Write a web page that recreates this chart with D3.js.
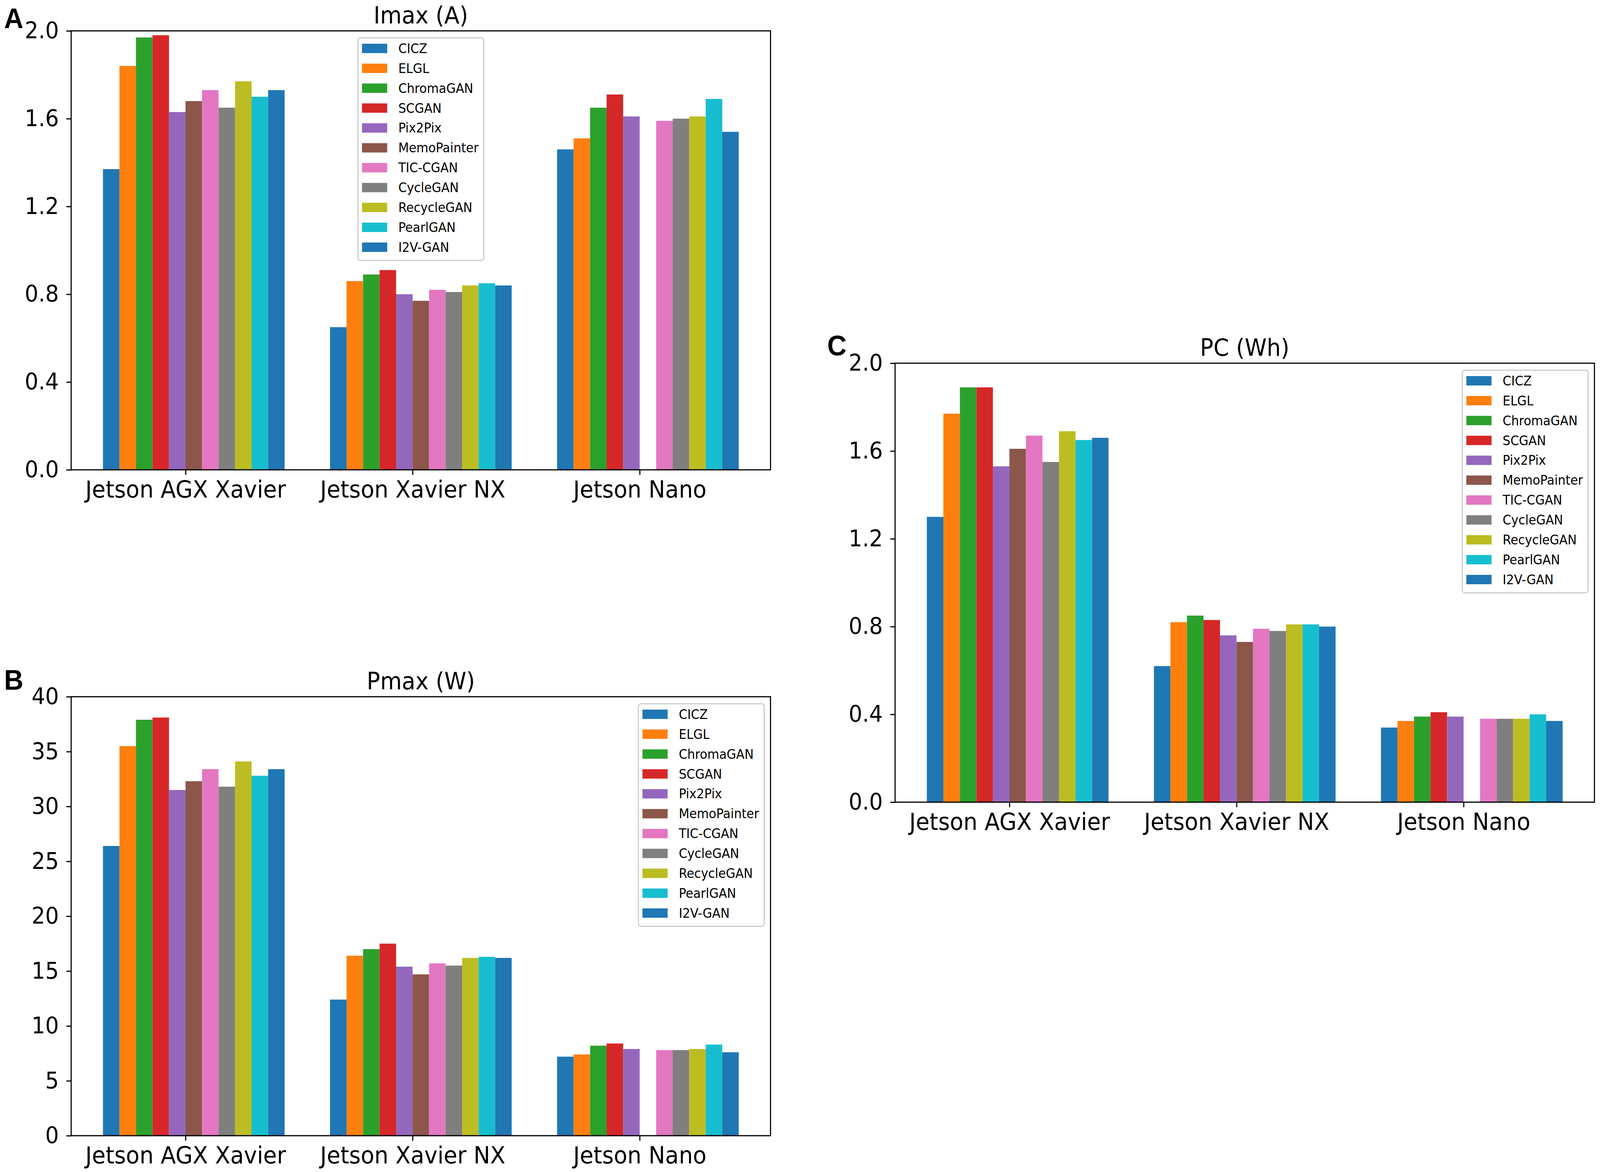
<!DOCTYPE html>
<html>
<head>
<meta charset="utf-8">
<script src="https://cdn.jsdelivr.net/npm/d3@7"></script>
<style>
  html, body { margin: 0; padding: 0; background: #fff; overflow: hidden; }
  svg { display: block; width: 100vw; height: 100vh; }
</style>
</head>
<body>
<svg id="chart"></svg>
<script>
const width = 4317;
const height = 3001;

const devices = ["Jetson AGX Xavier", "Jetson Xavier NX", "Jetson Nano"];
const methods = ["CICZ", "ELGL", "ChromaGAN", "SCGAN", "Pix2Pix", "MemoPainter",
  "TIC-CGAN", "CycleGAN", "RecycleGAN", "PearlGAN", "I2V-GAN"];
const colors = ["#1f77b4", "#ff7f0e", "#2ca02c", "#d62728", "#9467bd", "#8c564b",
  "#e377c2", "#7f7f7f", "#bcbd22", "#17becf", "#1f77b4"];

// Imax (A), one array per device, in method order (MemoPainter has no Nano value)
const imaxAGX  = [1.37, 1.84, 1.97, 1.98, 1.63, 1.68, 1.73, 1.65, 1.77, 1.70, 1.73];
const imaxNX   = [0.65, 0.86, 0.89, 0.91, 0.80, 0.77, 0.82, 0.81, 0.84, 0.85, 0.84];
const imaxNano = [1.46, 1.51, 1.65, 1.71, 1.61, null, 1.59, 1.60, 1.61, 1.69, 1.54];

// Pmax (W)
const pmaxAGX  = [26.4, 35.5, 37.9, 38.1, 31.5, 32.3, 33.4, 31.8, 34.1, 32.8, 33.4];
const pmaxNX   = [12.4, 16.4, 17.0, 17.5, 15.4, 14.7, 15.7, 15.5, 16.2, 16.3, 16.2];
const pmaxNano = [7.2, 7.4, 8.2, 8.4, 7.9, null, 7.8, 7.8, 7.9, 8.3, 7.6];

// PC (Wh)
const pcAGX  = [1.30, 1.77, 1.89, 1.89, 1.53, 1.61, 1.67, 1.55, 1.69, 1.65, 1.66];
const pcNX   = [0.62, 0.82, 0.85, 0.83, 0.76, 0.73, 0.79, 0.78, 0.81, 0.81, 0.80];
const pcNano = [0.34, 0.37, 0.39, 0.41, 0.39, null, 0.38, 0.38, 0.38, 0.40, 0.37];

const imaxTicks = [0.0, 0.4, 0.8, 1.2, 1.6, 2.0];
const pmaxTicks = [0, 5, 10, 15, 20, 25, 30, 35, 40];
const pcTicks = [0.0, 0.4, 0.8, 1.2, 1.6, 2.0];

const plotW = 1887;
const plotH = 1124;

const panels = [
  { letter: "A", lx: 11, ly: 72, title: "Imax (A)", left: 192, top: 79,
    values: [imaxAGX, imaxNX, imaxNano], ticks: imaxTicks, fmt: d3.format(".1f"), legend: "center" },
  { letter: "B", lx: 11, ly: 1766, title: "Pmax (W)", left: 192, top: 1784,
    values: [pmaxAGX, pmaxNX, pmaxNano], ticks: pmaxTicks, fmt: d3.format("d"), legend: "right" },
  { letter: "C", lx: 2232, ly: 910, title: "PC (Wh)", left: 2415, top: 930,
    values: [pcAGX, pcNX, pcNano], ticks: pcTicks, fmt: d3.format(".1f"), legend: "right" }
];

const font = "'DejaVu Sans', sans-serif";

// stretch the figure to the whole window, whatever its proportions
const svg = d3.select("#chart")
  .attr("viewBox", [0, 0, width, height])
  .attr("preserveAspectRatio", "none");

svg.append("rect").attr("width", width).attr("height", height).attr("fill", "#fff");

// bar geometry like matplotlib: 11 bars of 0.8/11, tick sits between bar 4 and 5
const barW = 0.8 / methods.length;
const lo = -5 * barW;
const hi = (devices.length - 1) + 6 * barW;
const pad = 0.05 * (hi - lo);

panels.forEach(p => {
  const g = svg.append("g").attr("transform", `translate(${p.left},${p.top})`);

  const x = d3.scaleLinear().domain([lo - pad, hi + pad]).range([0, plotW]);
  const y = d3.scaleLinear().domain([0, d3.max(p.ticks)]).range([plotH, 0]);

  const bars = [];
  p.values.forEach((arr, di) => {
    arr.forEach((v, mi) => {
      if (v == null) return;
      bars.push({ device: di, method: mi, value: v });
    });
  });

  g.selectAll("rect.bar")
    .data(bars)
    .join("rect")
    .attr("class", "bar")
    .attr("x", d => x(d.device + (d.method - 5) * barW))
    .attr("width", x(barW) - x(0))
    .attr("y", d => y(d.value))
    .attr("height", d => y(0) - y(d.value))
    .attr("fill", d => colors[d.method]);

  const yAxis = g.append("g")
    .call(d3.axisLeft(y).tickValues(p.ticks).tickFormat(p.fmt).tickSize(13).tickPadding(20));
  yAxis.select(".domain").remove();
  yAxis.selectAll("line").attr("stroke", "#000").attr("stroke-width", 3);
  yAxis.selectAll("text")
    .attr("font-family", font)
    .attr("font-size", 58)
    .attr("fill", "#000");

  const xAxis = g.append("g")
    .attr("transform", `translate(0,${plotH})`)
    .call(d3.axisBottom(x).tickValues([0, 1, 2]).tickFormat(i => devices[i]).tickSize(13).tickPadding(15));
  xAxis.select(".domain").remove();
  xAxis.selectAll("line").attr("stroke", "#000").attr("stroke-width", 3);
  xAxis.selectAll("text")
    .attr("font-family", font)
    .attr("font-size", 60)
    .attr("fill", "#000");

  // frame on top of the bars
  g.append("rect")
    .attr("width", plotW)
    .attr("height", plotH)
    .attr("fill", "none")
    .attr("stroke", "#000")
    .attr("stroke-width", 3);

  g.append("text")
    .attr("x", plotW / 2)
    .attr("y", -19)
    .attr("text-anchor", "middle")
    .attr("font-family", font)
    .attr("font-size", 60)
    .text(p.title);

  svg.append("text")
    .attr("x", p.lx)
    .attr("y", p.ly)
    .attr("font-family", "'Liberation Sans', Arial, sans-serif")
    .attr("font-weight", "bold")
    .attr("font-size", 72)
    .text(p.letter);

  // legend
  const fs = 33;
  const rowH = 50.9;
  const lg = g.append("g");
  const box = lg.append("rect");
  const items = lg.selectAll("g.item")
    .data(methods)
    .join("g")
    .attr("class", "item")
    .attr("transform", (d, i) => `translate(0,${27 + i * rowH})`);
  items.append("rect")
    .attr("x", 11)
    .attr("y", -12)
    .attr("width", 68)
    .attr("height", 24)
    .attr("fill", (d, i) => colors[i]);
  const labels = items.append("text")
    .attr("x", 109)
    .attr("dy", "0.36em")
    .attr("font-family", font)
    .attr("font-size", fs)
    .attr("fill", "#000")
    .text(d => d);
  let maxLen = 0;
  labels.each(function () { maxLen = Math.max(maxLen, this.getComputedTextLength()); });
  const boxW = 109 + maxLen + 14;
  const boxH = 27 + (methods.length - 1) * rowH + 34;
  box.attr("width", boxW)
    .attr("height", boxH)
    .attr("rx", 7)
    .attr("fill", "#fff")
    .attr("fill-opacity", 0.8)
    .attr("stroke", "#cccccc")
    .attr("stroke-width", 3);
  const lx = p.legend === "center" ? (plotW - boxW) / 2 : plotW - 17 - boxW;
  lg.attr("transform", `translate(${lx},18)`);
});
</script>
</body>
</html>
